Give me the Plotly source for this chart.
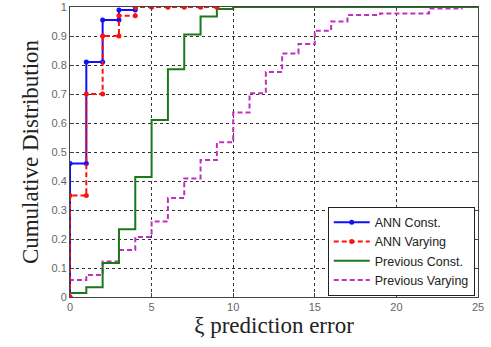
import plotly.graph_objects as go

# Step data: value y[i] holds from x[i] to x[i+1]
ann_const_x = [0, 1, 2, 3, 4]
ann_const_y = [0.46, 0.81, 0.955, 0.99, 1.0]

ann_var_x = [0, 1, 2, 3, 4, 5, 6, 7, 8, 9]
ann_var_y = [0.35, 0.70, 0.90, 0.97, 1.0, 1.0, 1.0, 1.0, 1.0, 1.0]

prev_const_x = [0, 1, 2, 3, 4, 5, 6, 7, 8, 9, 10, 25]
prev_const_y = [0.014, 0.034, 0.117, 0.234, 0.414, 0.61, 0.785, 0.905, 0.967, 0.993, 1.0, 1.0]

prev_var_x = [0, 1, 2, 3, 4, 5, 6, 7, 8, 9, 10, 11, 12, 13, 14, 15, 16, 17, 19, 22, 24, 25]
prev_var_y = [0.059, 0.076, 0.122, 0.162, 0.207, 0.26, 0.341, 0.409, 0.472, 0.534, 0.636,
              0.703, 0.776, 0.84, 0.872, 0.918, 0.95, 0.972, 0.978, 0.995, 1.0, 1.0]

x_ticks = [0, 5, 10, 15, 20, 25]
y_ticks = [0, 0.1, 0.2, 0.3, 0.4, 0.5, 0.6, 0.7, 0.8, 0.9, 1.0]
y_ticktext = ["0", "0.1", "0.2", "0.3", "0.4", "0.5", "0.6", "0.7", "0.8", "0.9", "1"]


def stairs(xs, ys, start=0.0):
    px, py = [xs[0]], [start]
    for i in range(len(xs)):
        px.append(xs[i]); py.append(ys[i])
        if i + 1 < len(xs):
            px.append(xs[i + 1]); py.append(ys[i])
    return px, py


fig = go.Figure()

sx, sy = stairs(prev_var_x, prev_var_y)
fig.add_trace(go.Scatter(x=sx, y=sy, mode="lines", name="Previous Varying",
                         line=dict(color="#c030c0", width=2, dash="5px,3px")))
sx, sy = stairs(prev_const_x, prev_const_y)
fig.add_trace(go.Scatter(x=sx, y=sy, mode="lines", name="Previous Const.",
                         line=dict(color="#1a7a1a", width=2)))
sx, sy = stairs(ann_const_x, ann_const_y)
fig.add_trace(go.Scatter(x=sx, y=sy, mode="lines+markers", name="ANN Const.",
                         line=dict(color="#1010ff", width=2),
                         marker=dict(size=5, color="#1010ff")))
sx, sy = stairs(ann_var_x, ann_var_y)
fig.add_trace(go.Scatter(x=sx, y=sy, mode="lines+markers", name="ANN Varying",
                         line=dict(color="#ff1010", width=2, dash="5px,3px"),
                         marker=dict(size=5, color="#ff1010")))

# legend order: ANN Const, ANN Varying, Previous Const, Previous Varying
order = {"ANN Const.": 1, "ANN Varying": 2, "Previous Const.": 3, "Previous Varying": 4}
for tr in fig.data:
    tr.legendrank = order[tr.name]

axis_common = dict(
    showgrid=True, gridcolor="#333333", griddash="dot", gridwidth=1,
    showline=True, linecolor="#444444", linewidth=1, mirror="ticks",
    ticks="inside", ticklen=4, tickcolor="#444444",
    zeroline=False, automargin=False,
    tickfont=dict(family="Arial, Liberation Sans", size=11, color="#666666"),
)

fig.update_layout(
    width=491, height=347,
    margin=dict(l=70, r=13, t=7, b=50),
    paper_bgcolor="white", plot_bgcolor="white",
    xaxis=dict(range=[0, 25], tickvals=x_ticks, ticktext=[str(v) for v in x_ticks],
               title=dict(text="ξ prediction error", standoff=2,
                          font=dict(family="Liberation Serif, Times New Roman", size=23, color="#222222")),
               **axis_common),
    yaxis=dict(range=[0, 1], tickvals=y_ticks, ticktext=y_ticktext,
               title=dict(text="Cumulative Distribution", standoff=6,
                          font=dict(family="Liberation Serif, Times New Roman", size=23, color="#222222")),
               **axis_common),
    legend=dict(x=0.992, y=0.005, xanchor="right", yanchor="bottom",
                bgcolor="white", bordercolor="#222222", borderwidth=1,
                font=dict(family="Arial, Liberation Sans", size=12.5, color="#222222"),
                tracegroupgap=0, itemwidth=36),
    showlegend=True,
)

fig.write_html("out.html", config={"displayModeBar": False},
               post_script="document.body.style.margin='0';")
